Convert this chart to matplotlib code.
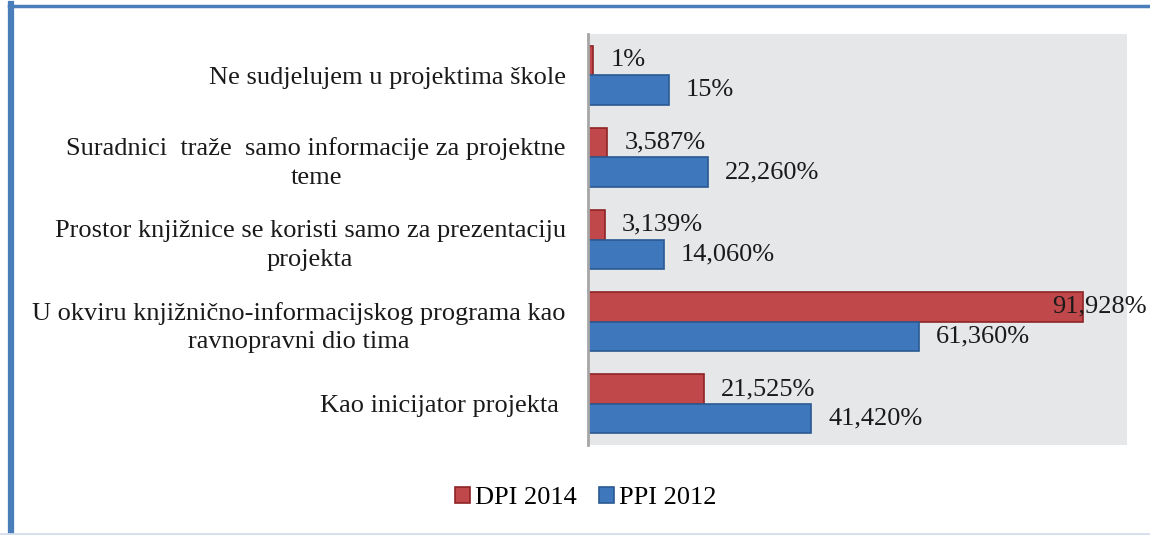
import matplotlib
matplotlib.use("Agg")
import matplotlib.pyplot as plt
from matplotlib.patches import Patch
from matplotlib.lines import Line2D

categories = [
    "Ne sudjelujem u projektima škole",
    "Suradnici  traže  samo informacije za projektne\nteme",
    "Prostor knjižnice se koristi samo za prezentaciju\nprojekta",
    "U okviru knjižnično-informacijskog programa kao\nravnopravni dio tima",
    "Kao inicijator projekta ",
]
dpi_2014 = [1, 3.587, 3.139, 91.928, 21.525]
ppi_2012 = [15, 22.26, 14.06, 61.36, 41.42]
series_names = ["DPI 2014", "PPI 2012"]

RED, RED_EDGE = "#C0474A", "#8E2426"
BLUE, BLUE_EDGE = "#3F77BC", "#2A5A92"

plt.rcParams["font.family"] = ["Liberation Serif", "DejaVu Serif"]
FS = 19


def fmt(v):
    if float(v).is_integer():
        return f"{int(v)}%"
    return f"{v:.3f}".replace(".", ",") + "%"


fig = plt.figure(figsize=(11.5, 5.35), dpi=100)
ax = fig.add_axes([588 / 1150, 1 - 445 / 535, (1127 - 588) / 1150, (445 - 34) / 535])
ax.set_facecolor("#E6E7E9")

h = 0.36
ypos = list(range(len(categories)))
red_y = [y - h / 2 for y in ypos]
blue_y = [y + h / 2 for y in ypos]
ax.barh(red_y, dpi_2014, height=h, color=RED, edgecolor=RED_EDGE, linewidth=1.2)
ax.barh(blue_y, ppi_2012, height=h, color=BLUE, edgecolor=BLUE_EDGE, linewidth=1.2)

# value labels; the one for the long bar is pulled back inside the chart
for y, v in zip(red_y, dpi_2014):
    off = 17 if v < 80 else -31
    ax.annotate(fmt(v), (v, y), xytext=(off, 0), textcoords="offset pixels",
                ha="left", va="center", fontsize=FS, color="#1a1a1a")
for y, v in zip(blue_y, ppi_2012):
    ax.annotate(fmt(v), (v, y), xytext=(17, 0), textcoords="offset pixels",
                ha="left", va="center", fontsize=FS, color="#1a1a1a")

ax.set_xlim(0, 100)
ax.set_ylim(len(categories) - 0.5, -0.5)
ax.set_xticks([])
ax.set_yticks(ypos)
ax.set_yticklabels(categories, fontsize=FS, multialignment="center", color="#1a1a1a",
                   linespacing=1.4)
ax.tick_params(axis="y", length=0, pad=16)
for s in ["top", "right", "bottom"]:
    ax.spines[s].set_visible(False)
ax.spines["left"].set_color("#A6A6A6")
ax.spines["left"].set_linewidth(2)

handles = [
    Patch(facecolor=RED, edgecolor=RED_EDGE, linewidth=1.2),
    Patch(facecolor=BLUE, edgecolor=BLUE_EDGE, linewidth=1.2),
]
fig.legend(handles, series_names, loc="center", bbox_to_anchor=(586 / 1150, 1 - 498 / 535),
           ncol=2, frameon=False, fontsize=FS, handlelength=0.55, handleheight=0.55,
           handletextpad=0.2, columnspacing=0.85)

# outer frame
fig.add_artist(Line2D([11 / 1150, 11 / 1150], [0, 1 - 4 / 535], transform=fig.transFigure,
                      color="#4A7EBB", linewidth=4.5))
fig.add_artist(Line2D([9 / 1150, 1], [1 - 5.5 / 535, 1 - 5.5 / 535], transform=fig.transFigure,
                      color="#4A7EBB", linewidth=2.5))
fig.add_artist(Line2D([0, 1], [1.5 / 535, 1.5 / 535], transform=fig.transFigure,
                      color="#D5DFEC", linewidth=2))

fig.savefig("out.png", dpi=100)
